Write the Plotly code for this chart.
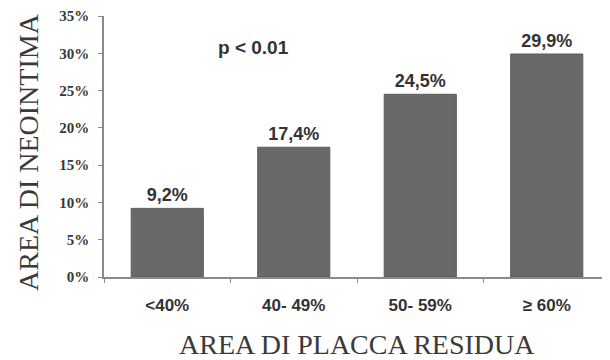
import plotly.graph_objects as go

categories = ["<40%", "40- 49%", "50- 59%", "≥ 60%"]
values = [9.2, 17.4, 24.5, 29.9]
y_ticks = [0, 5, 10, 15, 20, 25, 30, 35]
y_tick_labels = [f"{t}%" for t in y_ticks]
bar_labels = [f"{v:.1f}%".replace(".", ",") for v in values]

# page has an 8px body margin; figure occupies page (8..610, 8..360)
OFF = 8
W, H = 610 - OFF, 360 - OFF
L, R, T, B = 104 - OFF, 0, 16 - OFF, 360 - 277
pw, ph = W - L - R, H - T - B


def px(xp):
    return (xp - OFF - L) / pw


def py(yp):
    return (H - B - (yp - OFF)) / ph


fig = go.Figure()
fig.add_trace(go.Bar(
    x=categories, y=values,
    text=bar_labels, textposition="outside",
    texttemplate="<b>%{text}</b>",
    textfont=dict(family="Liberation Sans", size=18, color="#333333"),
    marker=dict(color="#696969", line=dict(color="#5a5a5a", width=1)),
    cliponaxis=False,
))

fig.update_layout(
    width=W, height=H,
    margin=dict(l=L, r=R, t=T, b=B),
    paper_bgcolor="white", plot_bgcolor="white",
    bargap=0.43,
    showlegend=False,
    font=dict(family="Liberation Sans", color="#333333"),
)
fig.update_yaxes(
    range=[0, 35], tickvals=y_ticks, ticktext=[f"<b>{t}</b>" for t in y_tick_labels],
    showgrid=False, zeroline=False, automargin=False,
    showline=True, linecolor="#8a8a8a", linewidth=1.5,
    ticks="outside", ticklen=4, tickcolor="#8a8a8a",
    ticklabelstandoff=6,
    tickfont=dict(family="Liberation Serif", size=15, color="#383838"),
)
fig.update_xaxes(
    showgrid=False, showline=True, linecolor="#8a8a8a", linewidth=1.5,
    automargin=False,
    ticks="outside", ticklen=4, tickcolor="#8a8a8a", tickson="boundaries",
    tickvals=categories, ticktext=[f"<b>{c}</b>" for c in categories],
    tickfont=dict(family="Liberation Sans", size=17, color="#333333"),
    ticklabelstandoff=12,
)
fig.add_annotation(
    text="AREA DI NEOINTIMA", xref="paper", yref="paper",
    x=px(28), y=py(152), xanchor="center", yanchor="middle",
    textangle=-90, showarrow=False,
    font=dict(family="Liberation Serif", size=28, color="#3a3a3a"),
)
fig.add_annotation(
    text="AREA DI PLACCA RESIDUA", xref="paper", yref="paper",
    x=px(357), y=py(344), xanchor="center", yanchor="middle", showarrow=False,
    font=dict(family="Liberation Serif", size=28, color="#3a3a3a"),
)
fig.add_annotation(
    text="<b>p < 0.01</b>", xref="paper", yref="paper",
    x=px(253), y=py(47), xanchor="center", yanchor="middle", showarrow=False,
    font=dict(family="Liberation Sans", size=19, color="#333333"),
)

fig.write_html("out.html")
